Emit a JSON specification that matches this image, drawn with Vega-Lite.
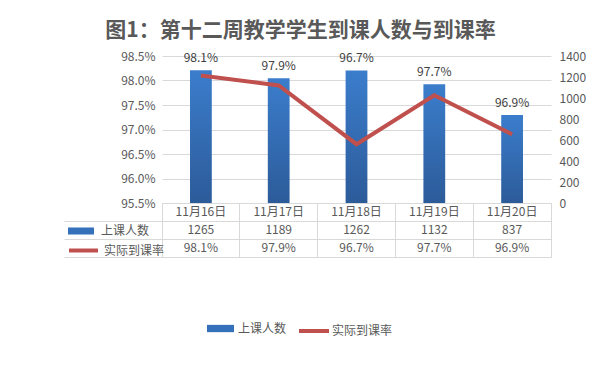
{
  "$schema": "https://vega.github.io/schema/vega-lite/v6.json",
  "autosize": {"type": "none"},
  "padding": {"left": 162, "top": 56, "right": 51, "bottom": 332},
  "background": "white",
  "bounds": "flush",
  "spacing": 0,
  "title": {
    "text": "图1：第十二周教学学生到课人数与到课率",
    "fontSize": 21,
    "fontWeight": "bold",
    "color": "#595959",
    "font": "Noto Sans CJK SC",
    "anchor": "middle",
    "frame": "group",
    "dx": -56,
    "offset": 9
  },
  "datasets": {
    "main": [
      {"date": "11月16日", "count": 1265, "rate": 0.981},
      {"date": "11月17日", "count": 1189, "rate": 0.979},
      {"date": "11月18日", "count": 1262, "rate": 0.967},
      {"date": "11月19日", "count": 1132, "rate": 0.977},
      {"date": "11月20日", "count": 837, "rate": 0.969}
    ]
  },
  "vconcat": [
    {
      "width": 389,
      "height": 147,
      "view": {"stroke": null},
      "data": {"name": "main"},
      "layer": [
        {
          "mark": {
            "type": "bar",
            "color": {
              "gradient": "linear", "x1": 0, "y1": 0, "x2": 0, "y2": 1,
              "stops": [{"offset": 0, "color": "#3B7DCC"}, {"offset": 1, "color": "#2C5B99"}]
            }
          },
          "encoding": {
            "x": {"field": "date", "type": "nominal", "sort": null, "scale": {"paddingInner": 0.72, "paddingOuter": 0.36}, "axis": null},
            "y": {"field": "count", "type": "quantitative", "scale": {"domain": [0, 1400]},
              "axis": {"orient": "right", "values": [0, 200, 400, 600, 800, 1000, 1200, 1400], "format": "d", "title": null, "grid": false, "domain": false, "ticks": false, "labelPadding": 8}}
          }
        },
        {
          "mark": {"type": "line", "strokeWidth": 4, "strokeCap": "butt"},
          "encoding": {
            "x": {"field": "date", "type": "nominal", "sort": null},
            "y": {"field": "rate", "type": "quantitative", "scale": {"domain": [0.955, 0.985], "zero": false},
              "axis": {"orient": "left", "values": [0.955, 0.96, 0.965, 0.97, 0.975, 0.98, 0.985], "format": ".1%", "title": null, "grid": true, "gridColor": "#d9d9d9", "domain": false, "ticks": false, "labelPadding": 7}},
            "stroke": {"datum": "实际到课率", "scale": {"range": ["#C0504D"]},
              "legend": {"orient": "none", "legendX": 135, "legendY": 258, "title": null, "symbolType": "stroke", "symbolSize": 900, "symbolStrokeWidth": 4, "labelOffset": 1, "padding": 0}}
          }
        },
        {
          "mark": {"type": "text", "baseline": "bottom", "dy": -5, "fontSize": 12, "color": "#404040"},
          "encoding": {
            "x": {"field": "date", "type": "nominal", "sort": null},
            "y": {"field": "count", "type": "quantitative", "scale": {"domain": [0, 1400]}, "axis": null},
            "text": {"field": "rate", "type": "quantitative", "format": ".1%"}
          }
        },
        {
          "data": {"values": []},
          "mark": "bar",
          "encoding": {
            "fill": {"datum": "上课人数", "scale": {"range": ["#3571BA"]},
              "legend": {"orient": "none", "legendX": 45, "legendY": 259, "title": null, "symbolType": "M-1,-0.27H1V0.27H-1Z", "symbolSize": 729, "symbolStrokeWidth": 0, "labelOffset": 4, "padding": 0}}
          }
        }
      ],
      "resolve": {"scale": {"y": "independent"}}
    },
    {
      "width": 389,
      "height": 54,
      "view": {"stroke": "#d9d9d9"},
      "data": {"name": "main"},
      "encoding": {
        "x": {"field": "date", "type": "nominal", "sort": null, "scale": {"type": "band", "paddingInner": 0, "paddingOuter": 0},
          "axis": {"orient": "top", "labels": false, "ticks": false, "domain": true, "domainColor": "#d9d9d9", "grid": true, "gridColor": "#d9d9d9", "bandPosition": 0, "title": null}}
      },
      "layer": [
        {
          "mark": {"type": "text", "fontSize": 12, "color": "#595959"},
          "encoding": {
            "y": {"datum": "h", "type": "nominal", "scale": {"type": "band", "domain": ["h", "上课人数", "实际到课率"], "paddingInner": 0, "paddingOuter": 0},
              "axis": {"labels": false, "ticks": true, "tickSize": 98, "tickColor": "#d9d9d9", "bandPosition": 1, "grid": true, "gridColor": "#d9d9d9", "domain": true, "domainColor": "#d9d9d9", "title": null}},
            "text": {"field": "date"}
          }
        },
        {
          "mark": {"type": "text", "fontSize": 12, "color": "#595959"},
          "encoding": {
            "y": {"datum": "上课人数", "type": "nominal"},
            "text": {"field": "count", "type": "quantitative"}
          }
        },
        {
          "mark": {"type": "text", "fontSize": 12, "color": "#595959"},
          "encoding": {
            "y": {"datum": "实际到课率", "type": "nominal"},
            "text": {"field": "rate", "type": "quantitative", "format": ".1%"}
          }
        },
        {
          "data": {"values": []},
          "mark": "bar",
          "encoding": {
            "fill": {"datum": "上课人数", "scale": {"range": ["#3571BA"]},
              "legend": {"orient": "none", "legendX": -94, "legendY": 15, "title": null, "symbolType": "M-1,-0.27H1V0.27H-1Z", "symbolSize": 676, "symbolStrokeWidth": 0, "labelOffset": 7, "padding": 0}}
          }
        },
        {
          "data": {"values": []},
          "mark": {"type": "line", "strokeWidth": 4},
          "encoding": {
            "stroke": {"datum": "实际到课率", "scale": {"range": ["#C0504D"]},
              "legend": {"orient": "none", "legendX": -95, "legendY": 31, "title": null, "symbolType": "stroke", "symbolSize": 841, "symbolStrokeWidth": 4, "labelOffset": 4, "padding": 0}}
          }
        }
      ]
    }
  ],
  "resolve": {
    "scale": {"x": "independent", "y": "independent", "fill": "independent", "stroke": "independent"},
    "legend": {"fill": "independent", "stroke": "independent"}
  },
  "config": {
    "font": "Noto Sans CJK SC",
    "axis": {"labelFont": "Noto Sans CJK SC", "labelFontSize": 12, "labelColor": "#595959"},
    "legend": {"labelFont": "Noto Sans CJK SC", "labelFontSize": 12, "labelColor": "#595959"},
    "text": {"font": "Noto Sans CJK SC"},
    "title": {"font": "Noto Sans CJK SC"}
  }
}
